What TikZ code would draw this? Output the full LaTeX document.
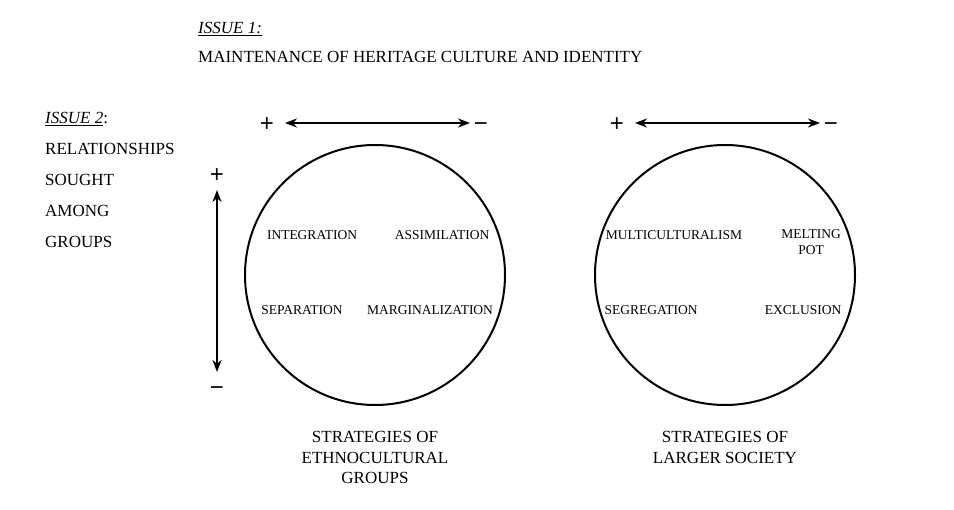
\documentclass[tikz,border=0pt]{standalone}
\usepackage{fontspec}
\setmainfont{Liberation Serif}
\newfontfamily\signfont{Liberation Sans}
\usetikzlibrary{arrows.meta}
\tikzset{
	heading/.style={inner sep=0pt, anchor=base west, font=\fontsize{17}{20.5}\selectfont},
	caption/.style={inner sep=0pt, anchor=north, align=center, font=\fontsize{17}{20.5}\selectfont},
	strategy/.style={inner sep=0pt, anchor=base, font=\fontsize{13.5}{15.5}\selectfont},
	sign/.style={inner sep=0pt, font=\signfont\fontsize{24}{24}\selectfont},
	ring/.style={circle, draw, line width=2pt, minimum size=260pt, inner sep=0pt},
	axis/.style={line width=2pt, {Stealth[length=12pt,width=9pt]}-{Stealth[length=12pt,width=9pt]}}
}

\begin{document}
\begin{tikzpicture}[x=1pt, y=-1pt]
	\useasboundingbox (0,0) rectangle (954,510);

	% issue 1
	\node[heading] (issueA) at (198,34) {\underline{\textit{ISSUE 1:}}};
	\node[heading] (heritage) at (198,63) {MAINTENANCE OF HERITAGE CULTURE AND IDENTITY};

	% issue 2
	\node[heading] (issueB) at (45,124) {\underline{\textit{ISSUE 2}}:};
	\foreach \word [count=\i] in {RELATIONSHIPS, SOUGHT, AMONG, GROUPS}
		\node[heading] (rel\i) at (45,124+31*\i) {\word};

	% circles
	\node[ring] (ethno) at (375,275) {};
	\node[ring] (society) at (725,275) {};

	% horizontal axes
	\node[sign] (plusA) at (267,125) {+};
	\node[sign] (minusA) at (481,127) {−};
	\coordinate (axAl) at (285,123);
	\coordinate (axAr) at (470,123);
	\draw[axis] (axAl) -- (axAr);

	\node[sign] (plusB) at (617,125) {+};
	\node[sign] (minusB) at (831,127) {−};
	\coordinate (axBl) at (635,123);
	\coordinate (axBr) at (820,123);
	\draw[axis] (axBl) -- (axBr);

	% vertical axis
	\node[sign] (plusV) at (217,176) {+};
	\node[sign] (minusV) at (217,391) {−};
	\coordinate (axVt) at (217,190);
	\coordinate (axVb) at (217,372);
	\draw[axis] (axVt) -- (axVb);

	% ethnocultural groups
	\node[strategy] (integ) at (312,240) {INTEGRATION};
	\node[strategy] (assim) at (442,240) {ASSIMILATION};
	\node[strategy] (separ) at (302,315) {SEPARATION};
	\node[strategy] (margin) at (430,315) {MARGINALIZATION};

	% larger society
	\node[strategy] (multi) at (674,240) {MULTICULTURALISM};
	\node[strategy, anchor=north, align=center] (melt) at (811,229.5) {MELTING\\POT};
	\node[strategy] (segreg) at (651,315) {SEGREGATION};
	\node[strategy] (exclu) at (803,315) {EXCLUSION};

	% captions
	\node[caption] (capA) at (375,431.5) {STRATEGIES OF\\ETHNOCULTURAL\\GROUPS};
	\node[caption] (capB) at (725,431.5) {STRATEGIES OF\\LARGER SOCIETY};
\end{tikzpicture}
\end{document}
